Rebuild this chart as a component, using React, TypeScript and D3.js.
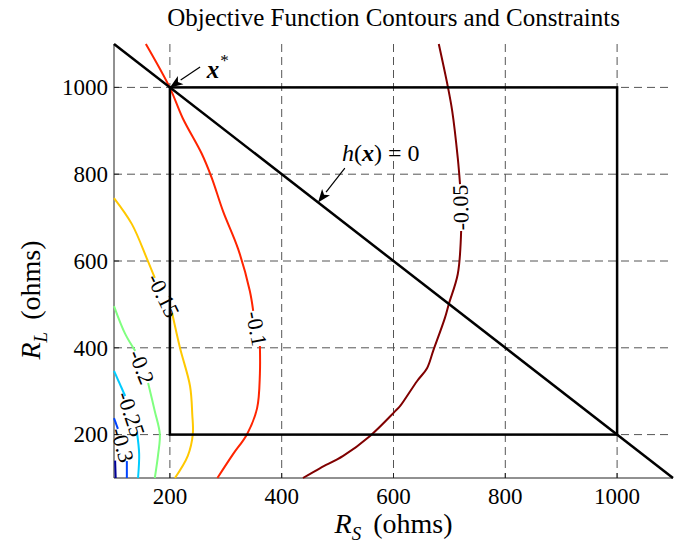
import React, { useEffect, useRef } from 'react';
import * as d3 from 'd3';

const W = 679;
const H = 546;

// axes
const xDomain = [100, 1100];
const yDomain = [100, 1100];
const xTicks = [200, 400, 600, 800, 1000];
const yTicks = [200, 400, 600, 800, 1000];

// constraints
const boxLo = 200;
const boxHi = 1000;
const lineSum = 1200; // h(x) = RS + RL - 1200
const xStar = [200, 1000];

// contour levels (outer -> inner)
const levels = ['-0.05', '-0.1', '-0.15', '-0.2', '-0.25', '-0.3', '-0.35'];
const levelColors = ['#800000', '#ff2400', '#ffc800', '#80ff80', '#00ccff', '#0044ff', '#000099'];

// each contour: part before the label, part after the label (RS, RL in ohms)
const c05a = [[681, 1100], [697, 1003], [705, 946], [715, 837], [719, 777]];
const c05b = [[721, 669], [715, 570], [699, 501], [692, 469], [671, 393], [660, 353], [642, 323], [612, 266], [603, 254], [558, 197], [510, 151], [469, 123], [438, 100]];
const c10a = [[157, 1100], [200, 999], [223, 929], [257, 847], [275, 791], [295, 715], [322, 628], [343, 531], [349, 485]];
const c10b = [[361, 404], [361, 340], [356, 261], [338, 201], [313, 155], [285, 100]];
const c15a = [[100, 745], [132, 685], [159, 605], [173, 561]];
const c15b = [[204, 480], [218, 400], [236, 312], [240, 247], [241, 201], [232, 151], [209, 100]];
const c20a = [[100, 496], [120, 432], [138, 393]];
const c20b = [[161, 319], [173, 254], [182, 201], [179, 155], [173, 100]];
const c25a = [[100, 347], [120, 289]];
const c25b = [[141, 206], [145, 155], [143, 100]];
const c30a = [[100, 238], [107, 213]];
const c30b = [[123, 139], [123, 100]];
const c35a = [[102, 140], [103, 100]];

const contourParts = [
  [c05a, c05b],
  [c10a, c10b],
  [c15a, c15b],
  [c20a, c20b],
  [c25a, c25b],
  [c30a, c30b],
  [c35a, []],
];
const upwardLabels = ['-0.05'];

// annotations (data coords)
const xStarTail = [254, 1047];
const xStarText = [266, 1022];
const hTip = [465, 735];
const hTail = [513, 814];
const hText = [508, 830];

const App = () => {
  const svgRef = useRef(null);

  useEffect(() => {
    const margin = { top: 44, right: 6, bottom: 68, left: 114 };
    const width = W - margin.left - margin.right;
    const height = H - margin.top - margin.bottom;

    const root = d3.select(svgRef.current);
    root.selectAll('*').remove();
    root.attr('width', W).attr('height', H).style('background', '#fff');

    const svg = root.append('g').attr('transform', `translate(${margin.left},${margin.top})`);
    const font = "'Liberation Serif', 'Times New Roman', serif";

    const x = d3.scaleLinear().domain(xDomain).range([0, width]);
    const y = d3.scaleLinear().domain(yDomain).range([height, 0]);

    // grid
    xTicks.forEach(t => {
      svg.append('line')
        .attr('x1', x(t)).attr('x2', x(t)).attr('y1', 0).attr('y2', height)
        .attr('stroke', '#555').attr('stroke-dasharray', '8,5');
    });
    yTicks.forEach(t => {
      svg.append('line')
        .attr('x1', 0).attr('x2', width).attr('y1', y(t)).attr('y2', y(t))
        .attr('stroke', '#555').attr('stroke-dasharray', '8,5');
    });

    // axes: ticks inside, no top/right box
    svg.append('line').attr('x1', 0).attr('x2', width).attr('y1', height).attr('y2', height)
      .attr('stroke', '#222').attr('stroke-width', 1);
    svg.append('line').attr('x1', 0).attr('x2', 0).attr('y1', 0).attr('y2', height)
      .attr('stroke', '#222').attr('stroke-width', 1);
    xTicks.forEach(t => {
      svg.append('line').attr('x1', x(t)).attr('x2', x(t)).attr('y1', height).attr('y2', height - 5)
        .attr('stroke', '#222');
      svg.append('text').attr('x', x(t)).attr('y', height + 26)
        .attr('text-anchor', 'middle').attr('font-family', font).attr('font-size', 23)
        .text(t);
    });
    yTicks.forEach(t => {
      svg.append('line').attr('x1', 0).attr('x2', 5).attr('y1', y(t)).attr('y2', y(t))
        .attr('stroke', '#222');
      svg.append('text').attr('x', -6).attr('y', y(t)).attr('dy', '0.34em')
        .attr('text-anchor', 'end').attr('font-family', font).attr('font-size', 23)
        .text(t);
    });

    // contours
    const lineGen = d3.line()
      .x(d => x(d[0]))
      .y(d => y(d[1]))
      .curve(d3.curveCatmullRom.alpha(0.5));

    contourParts.forEach(([a, b], i) => {
      [a, b].forEach(part => {
        if (part.length < 2) return;
        svg.append('path')
          .datum(part)
          .attr('fill', 'none')
          .attr('stroke', levelColors[i])
          .attr('stroke-width', 2)
          .attr('d', lineGen);
      });
      if (!b.length) return;
      const p0 = a[a.length - 1];
      const p1 = b[0];
      const cx = (x(p0[0]) + x(p1[0])) / 2;
      const cy = (y(p0[1]) + y(p1[1])) / 2;
      let ang = Math.atan2(y(p1[1]) - y(p0[1]), x(p1[0]) - x(p0[0])) * 180 / Math.PI;
      if (upwardLabels.includes(levels[i])) ang -= 180;
      svg.append('text')
        .attr('transform', `translate(${cx},${cy}) rotate(${ang})`)
        .attr('text-anchor', 'middle').attr('dy', '0.34em')
        .attr('font-family', font).attr('font-size', 22)
        .text(levels[i]);
    });

    // constraint box and h(x) = 0 line
    svg.append('rect')
      .attr('x', x(boxLo)).attr('y', y(boxHi))
      .attr('width', x(boxHi) - x(boxLo)).attr('height', y(boxLo) - y(boxHi))
      .attr('fill', 'none').attr('stroke', '#000').attr('stroke-width', 2.5);
    svg.append('line')
      .attr('x1', x(xDomain[0])).attr('y1', y(lineSum - xDomain[0]))
      .attr('x2', x(xDomain[1])).attr('y2', y(lineSum - xDomain[1]))
      .attr('stroke', '#000').attr('stroke-width', 2.5);

    // arrows
    const arrow = (tail, tip) => {
      const x0 = x(tail[0]), y0 = y(tail[1]), x1 = x(tip[0]), y1 = y(tip[1]);
      const a = Math.atan2(y1 - y0, x1 - x0);
      const len = 13, wid = 5;
      const bx = x1 - len * Math.cos(a), by = y1 - len * Math.sin(a);
      svg.append('line').attr('x1', x0).attr('y1', y0).attr('x2', bx).attr('y2', by)
        .attr('stroke', '#000').attr('stroke-width', 1.2);
      const nx = -Math.sin(a) * wid, ny = Math.cos(a) * wid;
      svg.append('path')
        .attr('d', `M${x1},${y1}L${bx + nx},${by + ny}L${bx + len * 0.25 * Math.cos(a)},${by + len * 0.25 * Math.sin(a)}L${bx - nx},${by - ny}Z`)
        .attr('fill', '#000');
    };
    arrow(xStarTail, xStar);
    arrow(hTail, hTip);

    const xs = svg.append('text').attr('x', x(xStarText[0])).attr('y', y(xStarText[1]))
      .attr('font-family', font).attr('font-size', 25);
    xs.append('tspan').attr('font-style', 'italic').attr('font-weight', 'bold').text('x');
    xs.append('tspan').attr('font-size', 17).attr('dy', -12).attr('dx', 1).text('*');

    const ht = svg.append('text').attr('x', x(hText[0])).attr('y', y(hText[1]))
      .attr('font-family', font).attr('font-size', 24);
    ht.append('tspan').attr('font-style', 'italic').text('h');
    ht.append('tspan').text('(');
    ht.append('tspan').attr('font-style', 'italic').attr('font-weight', 'bold').text('x');
    ht.append('tspan').text(') = 0');

    // title
    root.append('text').attr('x', margin.left + width / 2).attr('y', 26)
      .attr('text-anchor', 'middle').attr('font-family', font).attr('font-size', 25)
      .text('Objective Function Contours and Constraints');

    // axis labels
    const xl = root.append('text').attr('x', margin.left + width / 2).attr('y', 533)
      .attr('text-anchor', 'middle').attr('font-family', font).attr('font-size', 28);
    xl.append('tspan').attr('font-style', 'italic').text('R');
    xl.append('tspan').attr('font-style', 'italic').attr('font-size', 19).attr('dy', 7).text('S');
    xl.append('tspan').attr('dy', -7).attr('dx', 12).text('(ohms)');

    const yl = root.append('text').attr('transform', 'translate(40,300) rotate(-90)')
      .attr('text-anchor', 'middle').attr('font-family', font).attr('font-size', 28);
    yl.append('tspan').attr('font-style', 'italic').text('R');
    yl.append('tspan').attr('font-style', 'italic').attr('font-size', 19).attr('dy', 7).text('L');
    yl.append('tspan').attr('dy', -7).attr('dx', 12).text('(ohms)');
  }, []);

  return (
    <svg ref={svgRef} style={{ position: 'fixed', left: 0, top: 0, display: 'block' }}></svg>
  );
};

export default App;
